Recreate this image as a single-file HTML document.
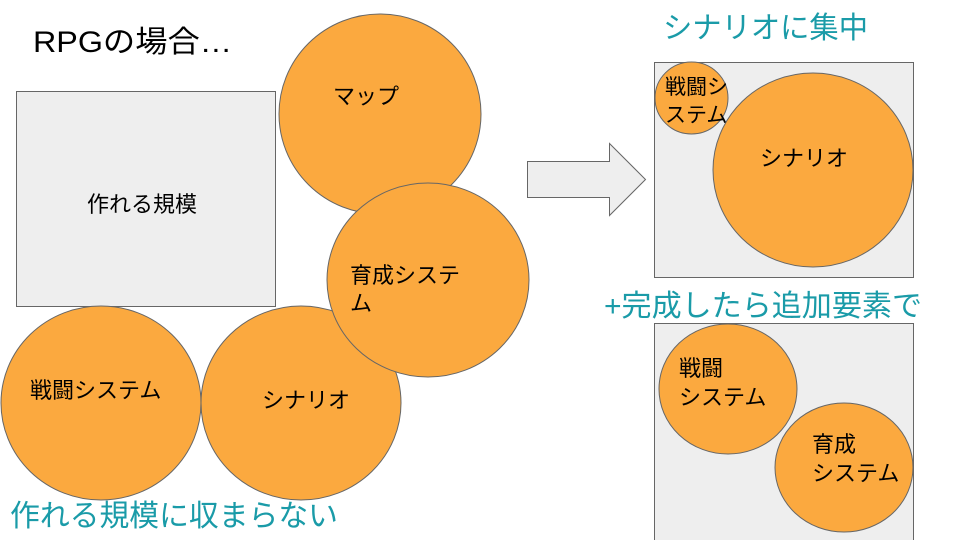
<!DOCTYPE html>
<html><head><meta charset="utf-8"><style>
html,body{margin:0;padding:0;background:#fff;}
svg{display:block;}
text{font-family:"Liberation Sans","Noto Sans CJK JP",sans-serif;}
</style></head><body>
<svg width="960" height="540" viewBox="0 0 960 540" xmlns="http://www.w3.org/2000/svg">
<g stroke="#666" stroke-width="1">
<rect x="16.5" y="91.5" width="259" height="215" fill="#eeeeee"/>
<ellipse cx="380" cy="114" rx="101" ry="100" fill="#fba93f"/>
<ellipse cx="101" cy="403" rx="100" ry="97" fill="#fba93f"/>
<ellipse cx="301" cy="403" rx="100" ry="97" fill="#fba93f"/>
<ellipse cx="428" cy="280" rx="101" ry="97" fill="#fba93f"/>
<path d="M527.5 161.5 H609.5 V143.5 L645.5 179.5 L609.5 215.5 V197.5 H527.5 Z" fill="#eeeeee"/>
<rect x="654.5" y="62.5" width="259" height="215" fill="#eeeeee"/>
<ellipse cx="691.5" cy="98" rx="36.5" ry="36" fill="#fba93f"/>
<ellipse cx="813" cy="170" rx="100" ry="97" fill="#fba93f"/>
<rect x="654.5" y="323.5" width="259" height="230" fill="#eeeeee"/>
<ellipse cx="728" cy="389" rx="69" ry="65" fill="#fba93f"/>
<ellipse cx="844" cy="467.5" rx="69" ry="64.5" fill="#fba93f"/>
</g>
<g fill="#000" font-size="22">
<text x="33" y="52" font-size="30" textLength="199" lengthAdjust="spacingAndGlyphs">RPGの場合…</text>
<text x="87" y="212">作れる規模</text>
<text x="333" y="104">マップ</text>
<text x="350" y="283">育成システ</text>
<text x="350" y="311">ム</text>
<text x="30" y="398">戦闘システム</text>
<text x="262" y="408">シナリオ</text>
<text x="665" y="94" font-size="21">戦闘シ</text>
<text x="665" y="122" font-size="21">ステム</text>
<text x="760" y="166">シナリオ</text>
<text x="679" y="376">戦闘</text>
<text x="679" y="405">システム</text>
<text x="812" y="452">育成</text>
<text x="812" y="481">システム</text>
</g>
<g fill="#1a9ba8" font-size="30">
<text x="10" y="526" textLength="328" lengthAdjust="spacingAndGlyphs">作れる規模に収まらない</text>
<text x="663" y="38" textLength="205" lengthAdjust="spacingAndGlyphs">シナリオに集中</text>
<text x="604" y="316" textLength="318" lengthAdjust="spacingAndGlyphs">+完成したら追加要素で</text>
</g>
</svg>
</body></html>
